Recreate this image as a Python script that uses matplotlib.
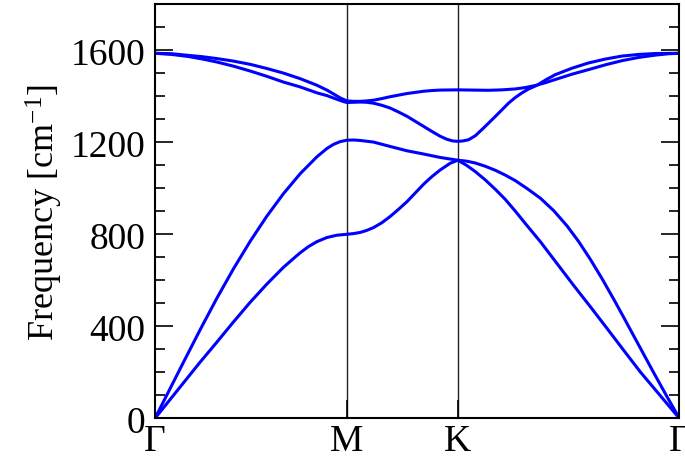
import matplotlib.pyplot as plt
from matplotlib.ticker import MultipleLocator

plt.rcParams['font.family'] = ['Liberation Serif', 'DejaVu Serif']
plt.rcParams['mathtext.default'] = 'regular'

# high-symmetry points (path length, 2pi/a units)
sym_k = [0.0, 0.577, 0.911, 1.577]
sym_labels = ['Γ', 'M', 'K', 'Γ']

# TA branch
k_ta = [0, 0.040, 0.085, 0.135, 0.186, 0.236, 0.286, 0.336, 0.386, 0.412, 0.437,
        0.462, 0.487, 0.517, 0.547, 0.577,
        0.597, 0.617, 0.637, 0.657, 0.682, 0.707, 0.732, 0.758, 0.783, 0.808,
        0.833, 0.858, 0.888, 0.911,
        0.937, 0.963, 0.993, 1.024, 1.054, 1.084, 1.120, 1.159, 1.209, 1.259,
        1.310, 1.360, 1.410, 1.460, 1.520, 1.577]
f_ta = [0, 72, 153, 243, 331, 419, 504, 583, 656, 689, 720,
        747, 768, 786, 796, 800,
        803, 808, 817, 829, 850, 877, 908, 942, 980, 1018,
        1051, 1080, 1109, 1122,
        1100, 1073, 1037, 995, 951, 900, 836, 768, 673, 578,
        484, 390, 295, 201, 98, 0]

# LA branch
k_la = [0, 0.040, 0.085, 0.135, 0.186, 0.236, 0.286, 0.336, 0.386, 0.437,
        0.487, 0.517, 0.537, 0.557, 0.577,
        0.597, 0.617, 0.657, 0.707, 0.758, 0.808, 0.858, 0.911,
        0.937, 0.963, 0.993, 1.024, 1.054, 1.084, 1.119, 1.159, 1.199, 1.239,
        1.274, 1.309, 1.345, 1.380, 1.410, 1.440, 1.470, 1.500, 1.540, 1.577]
f_la = [0, 114, 242, 383, 522, 650, 769, 878, 976, 1064,
        1137, 1173, 1191, 1203, 1209,
        1210, 1208, 1201, 1182, 1163, 1149, 1134, 1122,
        1118, 1110, 1096, 1078, 1057, 1033, 999, 957, 903, 837,
        769, 692, 606, 517, 438, 358, 278, 198, 94, 0]

# TO branch
k_to = [0, 0.050, 0.100, 0.143, 0.186, 0.236, 0.286, 0.336, 0.386, 0.436,
        0.487, 0.517, 0.547, 0.567, 0.577,
        0.597, 0.617, 0.637, 0.657, 0.682, 0.707, 0.732, 0.758, 0.783, 0.808,
        0.833, 0.858, 0.878, 0.895, 0.911,
        0.927, 0.943, 0.963, 0.983, 1.003, 1.024, 1.044, 1.064, 1.084, 1.104,
        1.124, 1.149, 1.176, 1.204, 1.254, 1.304, 1.355, 1.405, 1.455, 1.505, 1.577]
f_to = [1587, 1582, 1573, 1562, 1549, 1531, 1510, 1487, 1462, 1441,
        1415, 1403, 1387, 1377, 1373,
        1374, 1375, 1374, 1370, 1361, 1349, 1332, 1313, 1291, 1269,
        1247, 1226, 1213, 1206, 1204,
        1206, 1211, 1228, 1255, 1283, 1313, 1342, 1371, 1395, 1415,
        1432, 1448, 1472, 1494, 1522, 1545, 1562, 1575, 1582, 1586, 1587]

# LO branch
k_lo = [0, 0.050, 0.100, 0.143, 0.186, 0.236, 0.286, 0.336, 0.386, 0.436,
        0.487, 0.517, 0.537, 0.557, 0.577,
        0.597, 0.617, 0.637, 0.657, 0.682, 0.707, 0.732, 0.758, 0.783, 0.808,
        0.833, 0.858, 0.911,
        0.957, 1.003, 1.044, 1.084, 1.114, 1.144, 1.174, 1.204, 1.254, 1.304,
        1.355, 1.405, 1.455, 1.505, 1.545, 1.577]
f_lo = [1587, 1585, 1578, 1572, 1564, 1553, 1539, 1521, 1501, 1477,
        1448, 1427, 1410, 1393, 1380,
        1378, 1378, 1380, 1383, 1390, 1398, 1405, 1412, 1417, 1422,
        1425, 1427, 1428,
        1427, 1426, 1428, 1432, 1438, 1447, 1459, 1473, 1496, 1516,
        1537, 1555, 1569, 1579, 1585, 1587]

fig = plt.figure(figsize=(6.85, 4.6), dpi=100)
ax = fig.add_axes([0.2263, 0.0885, 0.7654, 0.9])

for kk, ff in [(k_ta, f_ta), (k_la, f_la), (k_to, f_to), (k_lo, f_lo)]:
    ax.plot(kk, ff, color='#0000ff', lw=2.2, solid_joinstyle='round',
            solid_capstyle='round')

for k in sym_k[1:-1]:
    ax.axvline(k, color='#222222', lw=1.0, zorder=0)

ax.set_xlim(sym_k[0], sym_k[-1])
ax.set_ylim(0, 1800)
ax.set_xticks(sym_k)
ax.set_xticklabels(sym_labels)
ax.yaxis.set_major_locator(MultipleLocator(400))
ax.yaxis.set_minor_locator(MultipleLocator(100))
ax.tick_params(axis='both', which='major', direction='in', length=13, width=1.2,
               labelsize=27)
ax.tick_params(axis='y', which='both', right=True)
ax.tick_params(axis='y', which='minor', direction='in', length=7, width=1.2)
ax.tick_params(axis='x', pad=3.5)
ax.tick_params(axis='y', pad=7)
for s in ax.spines.values():
    s.set_linewidth(1.5)

ax.set_ylabel('Frequency [cm$^{-1}$]', fontsize=26, labelpad=4)

fig.savefig('out.png', dpi=100)
